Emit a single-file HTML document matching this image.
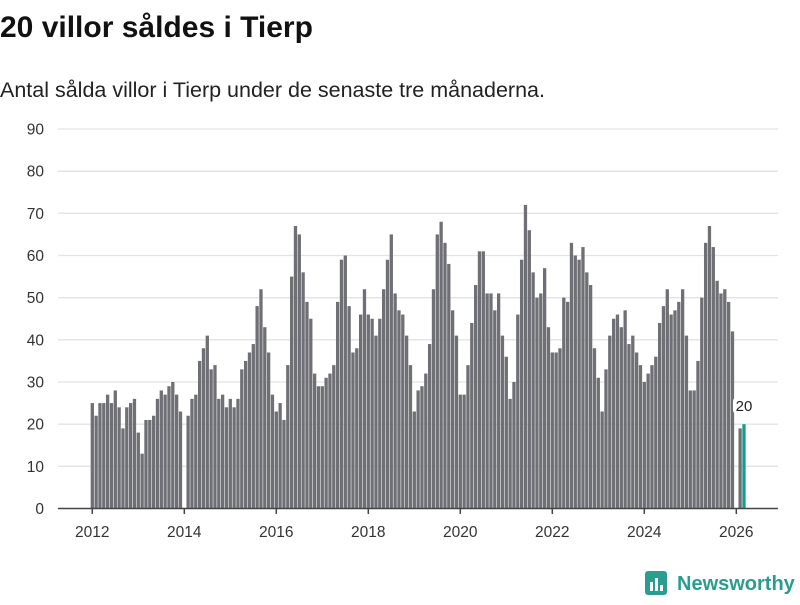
<!DOCTYPE html>
<html><head><meta charset="utf-8"><style>
body{margin:0;background:#fff;width:800px;height:600px;overflow:hidden;font-family:"Liberation Sans",sans-serif;}
</style></head><body>
<svg width="800" height="600" xmlns="http://www.w3.org/2000/svg">
<text x="0" y="37" font-size="30" font-weight="bold" fill="#111">20 villor såldes i Tierp</text>
<text x="0" y="97" font-size="21.5" fill="#222">Antal sålda villor i Tierp under de senaste tre månaderna.</text>
<g id="grid"></g><g id="bars"></g><g id="axes"></g>
<g>
<rect x="645" y="571" width="22" height="24" rx="3" fill="#2a9d8f"/>
<rect x="650" y="582" width="3" height="9" fill="#fff"/><rect x="655" y="578" width="3" height="13" fill="#fff"/><rect x="660" y="585" width="3" height="6" fill="#fff"/>
<text x="677" y="590" font-size="20" font-weight="bold" fill="#2a9d8f">Newsworthy</text>
</g>
</svg>
<script>
const yTicks=[0,10,20,30,40,50,60,70,80,90];
const xYears=[2012,2014,2016,2018,2020,2022,2024,2026];
const startYear=2012;
const values=[
25,22,25,25,27,25,28,24,19,24,25,26,
18,13,21,21,22,26,28,27,29,30,27,23,
0,22,26,27,35,38,41,33,34,26,27,24,
26,24,26,33,35,37,39,48,52,43,37,27,
23,25,21,34,55,67,65,56,49,45,32,29,
29,31,32,34,49,59,60,48,37,38,46,52,
46,45,41,45,52,59,65,51,47,46,41,34,
23,28,29,32,39,52,65,68,63,58,47,41,
27,27,34,44,53,61,61,51,51,47,51,41,
36,26,30,46,59,72,66,56,50,51,57,43,
37,37,38,50,49,63,60,59,62,56,53,38,
31,23,33,41,45,46,43,47,39,41,37,34,
30,32,34,36,44,48,52,46,47,49,52,41,
28,28,35,50,63,67,62,54,51,52,49,42,
0,19,20];
const NS="http://www.w3.org/2000/svg";
const y=v=>508.5-v*(379.5/90);
const x=i=>92.3+i*(46/12);
function mk(t,a,p){const e=document.createElementNS(NS,t);for(const k in a)e.setAttribute(k,a[k]);p.appendChild(e);return e;}
const grid=document.getElementById('grid'),bars=document.getElementById('bars'),axes=document.getElementById('axes');
yTicks.forEach(v=>{
  if(v>0){const l=mk('line',{x1:58,x2:778,y1:y(v),y2:y(v),stroke:'#e3e3e3','stroke-width':1.3},grid);
  
  }
  const t=mk('text',{x:44,y:y(v)+5.5,'text-anchor':'end','font-size':15.5,fill:'#333'},grid);
  t.textContent=v;
  
  
});
values.forEach((v,i)=>{
  if(!v)return;
  const last=i===values.length-1;
  const r=mk('rect',{x:x(i)-1.65,y:y(v),width:3.3,height:508.5-y(v),fill:last?'#1a9a8f':'#6f6f76'},bars);
  
  
});
const li=values.length-1;
const lb=mk('rect',{x:x(li)-11,y:y(values[li])-27,width:22,height:17,rx:4,fill:'#fff'},axes);


const lt=mk('text',{x:x(li),y:y(values[li])-13,'text-anchor':'middle','font-size':15,fill:'#222'},axes);
lt.textContent=values[li];


const base=mk('line',{x1:58,x2:778,y1:508.5,y2:508.5,stroke:'#444','stroke-width':1.5},axes);


xYears.forEach(yr=>{
  const xx=x((yr-startYear)*12);
  const tk=mk('line',{x1:xx,x2:xx,y1:508.5,y2:514,stroke:'#444','stroke-width':1.5},axes);
  
  
  const t=mk('text',{x:xx,y:537,'text-anchor':'middle','font-size':15.5,fill:'#333'},axes);
  t.textContent=yr;
  
  
});
</script>
</body></html>
